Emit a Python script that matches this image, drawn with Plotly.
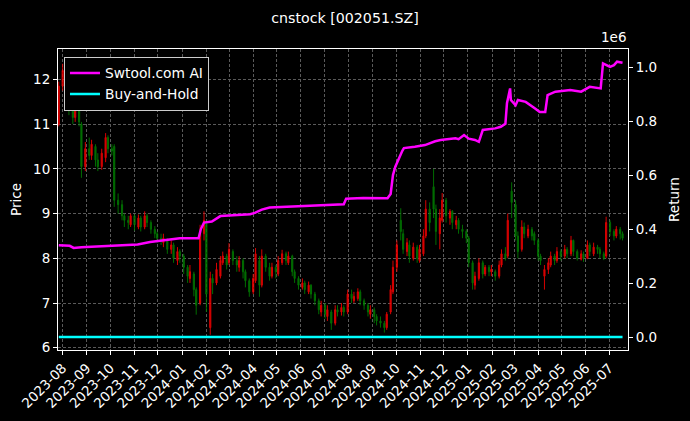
import pandas as pd
import plotly.graph_objects as go

# ---------------- data ----------------
open_ = [11.00, 11.85, 12.15, 11.75, 11.40, 11.15, 11.40, 11.00, 10.05, 10.45,
         10.30, 10.50, 10.20, 10.05, 10.25, 10.70, 10.45, 10.50, 9.30, 9.20,
         8.95, 8.85, 8.75, 8.95, 8.70, 8.90, 8.70, 8.95, 8.80, 8.65,
         8.55, 8.45, 8.35, 8.40, 8.20, 8.30, 7.95, 8.15, 8.05, 7.80,
         7.55, 7.65, 7.30, 7.00, 8.55, 8.80, 6.45, 7.55, 7.45, 7.60,
         7.90, 8.05, 7.90, 8.15, 7.95, 7.80, 7.95, 7.70, 7.50, 7.25,
         7.50, 7.95, 7.40, 8.05, 7.80, 7.60, 7.80, 7.65, 7.90, 8.10,
         7.90, 8.05, 7.70, 7.55, 7.35, 7.45, 7.25, 7.40, 7.20, 7.05,
         6.80, 6.95, 6.70, 6.80, 6.55, 6.85, 6.80, 6.90, 6.80, 7.20,
         7.05, 7.10, 7.25, 7.05, 6.95, 6.75, 6.85, 6.70, 6.60, 6.55,
         6.45, 6.80, 7.25, 7.80, 8.85, 8.55, 8.15, 8.30, 8.00, 8.25,
         7.95, 8.10, 8.50, 9.10, 9.60, 9.10, 8.55, 8.85, 9.30, 8.90,
         9.05, 8.75, 8.85, 8.65, 8.60, 8.45, 7.90, 7.40, 7.55, 7.90,
         7.65, 7.80, 7.70, 7.70, 7.60, 7.85, 8.10, 8.05, 9.50, 9.20,
         8.50, 8.20, 8.70, 8.50, 8.65, 8.55, 8.40, 8.05, 7.60, 7.75,
         7.85, 8.05, 7.95, 8.15, 8.05, 8.20, 8.10, 8.40, 8.15, 7.98,
         8.10, 8.00, 8.30, 8.10, 8.25, 8.20, 8.10, 8.05, 8.80, 8.60,
         8.50, 8.65, 8.55]
high = [11.95, 12.35, 12.25, 11.85, 11.55, 11.70, 11.50, 11.05, 10.60, 10.70,
        10.65, 10.55, 10.35, 10.45, 10.80, 10.75, 10.55, 10.55, 9.45, 9.30,
        9.00, 8.95, 9.00, 8.98, 8.98, 8.95, 9.05, 9.00, 8.85, 8.72,
        8.60, 8.55, 8.55, 8.45, 8.40, 8.35, 8.25, 8.20, 8.10, 7.85,
        7.85, 7.70, 7.35, 8.75, 9.05, 8.85, 7.70, 7.65, 7.90, 8.05,
        8.15, 8.10, 8.34, 8.20, 8.05, 8.05, 8.00, 7.75, 7.55, 7.65,
        8.23, 8.05, 8.20, 8.10, 7.90, 7.90, 7.85, 8.05, 8.19, 8.15,
        8.15, 8.08, 7.75, 7.60, 7.55, 7.50, 7.48, 7.42, 7.25, 7.10,
        7.05, 7.00, 6.95, 6.85, 6.95, 6.95, 7.00, 6.95, 7.30, 7.30,
        7.25, 7.33, 7.30, 7.10, 7.00, 6.95, 6.90, 6.75, 6.70, 6.60,
        6.80, 7.40, 7.95, 8.40, 9.12, 8.65, 8.45, 8.40, 8.35, 8.30,
        8.30, 8.65, 9.30, 9.25, 10.00, 9.20, 9.10, 9.46, 9.35, 9.10,
        9.08, 8.95, 8.90, 8.75, 8.65, 8.50, 7.95, 7.70, 8.00, 7.95,
        7.85, 7.85, 7.85, 7.75, 7.95, 8.20, 8.25, 9.00, 9.70, 9.30,
        8.60, 8.85, 8.80, 8.75, 8.70, 8.60, 8.45, 8.10, 7.85, 8.00,
        8.15, 8.10, 8.25, 8.20, 8.30, 8.25, 8.50, 8.42, 8.20, 8.18,
        8.15, 8.40, 8.35, 8.35, 8.30, 8.25, 8.15, 8.93, 8.85, 8.65,
        8.72, 8.70, 8.60]
low = [10.95, 11.75, 11.60, 11.20, 11.00, 11.05, 10.95, 9.80, 9.95, 10.20,
       10.20, 10.05, 9.95, 9.98, 10.15, 10.35, 10.30, 9.15, 9.00, 8.85,
       8.70, 8.65, 8.70, 8.62, 8.65, 8.60, 8.65, 8.70, 8.55, 8.45,
       8.35, 8.30, 8.25, 8.10, 8.10, 7.90, 7.85, 7.90, 7.65, 7.45,
       7.45, 7.15, 6.74, 6.95, 8.40, 6.80, 6.29, 7.20, 7.40, 7.55,
       7.85, 7.75, 7.85, 7.85, 7.70, 7.70, 7.55, 7.35, 7.14, 7.20,
       7.45, 7.14, 7.35, 7.70, 7.50, 7.55, 7.55, 7.60, 7.85, 7.85,
       7.85, 7.60, 7.45, 7.30, 7.30, 7.20, 7.20, 7.10, 6.95, 6.75,
       6.70, 6.65, 6.60, 6.40, 6.50, 6.70, 6.72, 6.70, 6.75, 7.00,
       7.00, 7.05, 6.95, 6.85, 6.70, 6.65, 6.55, 6.50, 6.45, 6.34,
       6.40, 6.75, 7.20, 7.70, 8.40, 8.10, 8.05, 7.90, 7.95, 7.90,
       7.90, 8.05, 8.45, 8.60, 8.90, 8.30, 8.20, 8.80, 8.80, 8.75,
       8.65, 8.65, 8.55, 8.45, 8.34, 7.80, 7.30, 7.30, 7.50, 7.55,
       7.60, 7.60, 7.60, 7.50, 7.55, 7.80, 7.95, 8.00, 8.90, 8.40,
       8.00, 8.15, 8.45, 8.45, 8.40, 8.30, 7.95, 7.85, 7.30, 7.65,
       7.80, 7.85, 7.90, 7.95, 8.00, 8.00, 8.05, 8.05, 7.95, 7.95,
       7.92, 7.98, 8.05, 8.05, 8.10, 8.00, 7.96, 8.00, 8.50, 8.40,
       8.45, 8.42, 8.40]
close = [11.85, 12.20, 11.80, 11.40, 11.15, 11.45, 11.05, 10.05, 10.45, 10.30,
         10.55, 10.20, 10.05, 10.35, 10.70, 10.45, 10.40, 9.30, 9.20, 8.95,
         8.85, 8.80, 8.95, 8.75, 8.90, 8.70, 8.95, 8.80, 8.65, 8.55,
         8.45, 8.40, 8.45, 8.20, 8.30, 8.00, 8.15, 8.05, 7.80, 7.60,
         7.70, 7.30, 6.95, 8.60, 8.85, 7.20, 7.55, 7.45, 7.75, 7.95,
         8.05, 7.85, 8.20, 7.95, 7.85, 7.95, 7.70, 7.50, 7.25, 7.55,
         8.10, 7.40, 8.05, 7.80, 7.60, 7.80, 7.70, 7.95, 8.10, 7.95,
         8.05, 7.70, 7.55, 7.40, 7.45, 7.30, 7.40, 7.20, 7.05, 6.85,
         6.95, 6.75, 6.85, 6.55, 6.85, 6.80, 6.90, 6.80, 7.20, 7.10,
         7.15, 7.25, 7.05, 6.95, 6.80, 6.85, 6.70, 6.60, 6.55, 6.45,
         6.75, 7.30, 7.80, 8.30, 8.60, 8.20, 8.35, 8.05, 8.25, 8.00,
         8.20, 8.50, 9.10, 8.80, 9.10, 8.60, 8.90, 9.30, 8.95, 9.05,
         8.80, 8.85, 8.65, 8.60, 8.45, 7.90, 7.45, 7.60, 7.90, 7.65,
         7.80, 7.70, 7.75, 7.60, 7.85, 8.10, 8.00, 8.85, 9.25, 8.50,
         8.15, 8.70, 8.55, 8.65, 8.50, 8.40, 8.05, 7.95, 7.75, 7.90,
         8.05, 7.95, 8.15, 8.05, 8.20, 8.10, 8.40, 8.15, 8.00, 8.10,
         8.00, 8.30, 8.15, 8.25, 8.20, 8.10, 8.00, 8.80, 8.60, 8.50,
         8.65, 8.55, 8.45]

ai_dates = ["2023-07-27", "2023-08-10", "2023-08-15", "2023-08-25", "2023-09-20",
            "2023-10-13", "2023-11-05", "2023-11-21", "2023-12-10", "2023-12-29",
            "2024-01-22", "2024-01-25", "2024-01-29", "2024-02-08", "2024-02-19",
            "2024-03-10", "2024-03-28", "2024-04-03", "2024-04-12", "2024-04-22",
            "2024-05-31", "2024-07-10", "2024-07-26", "2024-07-29", "2024-08-20",
            "2024-09-20", "2024-09-24", "2024-09-27", "2024-09-30", "2024-10-09",
            "2024-10-11", "2024-10-25", "2024-11-07", "2024-11-20", "2024-11-27",
            "2024-12-16", "2024-12-20", "2024-12-27", "2025-01-02", "2025-01-10",
            "2025-01-15", "2025-01-20", "2025-02-05", "2025-02-12", "2025-02-18",
            "2025-02-20", "2025-02-24", "2025-02-25", "2025-03-03", "2025-03-06",
            "2025-03-16", "2025-03-28", "2025-04-03", "2025-04-10", "2025-04-13",
            "2025-04-23", "2025-05-12", "2025-05-26", "2025-06-06", "2025-06-20",
            "2025-06-23", "2025-07-02", "2025-07-07", "2025-07-11", "2025-07-18"]
ai_values = [340000, 338000, 330000, 333000, 336000,
             340000, 343000, 352000, 360000, 366000,
             366000, 400000, 424000, 428000, 448000,
             452000, 455000, 460000, 472000, 480000,
             486000, 490000, 492000, 512000, 515000,
             514000, 530000, 600000, 631000, 690000,
             700000, 705000, 711000, 725000, 730000,
             736000, 733000, 748000, 735000, 730000,
             723000, 767000, 773000, 779000, 790000,
             866000, 921000, 878000, 859000, 878000,
             871000, 847000, 834000, 834000, 896000,
             909000, 915000, 909000, 927000, 921000,
             1014000, 1001000, 1007000, 1020000, 1016000]

month_ticks = pd.date_range("2023-08-01", "2025-07-01", freq="MS")
right_tick_vals = [0, 200000, 400000, 600000, 800000, 1000000]
right_tick_text = ["0.0", "0.2", "0.4", "0.6", "0.8", "1.0"]

# ---------------- build ----------------
dates = pd.bdate_range("2023-07-27", "2025-07-18")[::3][:len(close)]
bh_values = [c / close[0] - 1 for c in close]

FONT = "DejaVu Sans"
FS = 13.5
fig = go.Figure()
fig.add_trace(go.Candlestick(
    x=dates, open=open_, high=high, low=low, close=close,
    increasing=dict(line=dict(color="#ff0000", width=1), fillcolor="#ff0000"),
    decreasing=dict(line=dict(color="#008000", width=1), fillcolor="#008000"),
    showlegend=False, yaxis="y", opacity=0.85,
))
fig.add_trace(go.Scatter(
    x=pd.to_datetime(ai_dates), y=ai_values, mode="lines", name="Swtool.com AI",
    line=dict(color="#ff00ff", width=2.5), yaxis="y2",
))
fig.add_trace(go.Scatter(
    x=dates, y=bh_values, mode="lines", name="Buy-and-Hold",
    line=dict(color="#00ffff", width=2.5), yaxis="y2",
))

GRID = dict(showgrid=True, gridcolor="#5a5a5a", gridwidth=0.5, griddash="3px,2px")
fig.update_layout(
    width=690, height=421,
    paper_bgcolor="black", plot_bgcolor="black",
    margin=dict(l=58, r=62, t=49, b=71, autoexpand=False),
    font=dict(family=FONT, color="white", size=FS),
    title=dict(text="cnstock [002051.SZ]", x=0.5, xref="container", xanchor="center",
               y=1 - 18 / 421, yref="container", yanchor="middle",
               font=dict(size=14.2, color="white", family=FONT)),
    xaxis=dict(
        type="date", range=["2023-07-26", "2025-07-25"], automargin=False,
        tickvals=month_ticks, tickformat="%Y-%m", tickangle=-45,
        ticks="outside", ticklen=4, tickcolor="white",
        showline=True, linecolor="white", linewidth=1, mirror=True,
        rangeslider=dict(visible=False), zeroline=False,
        tickfont=dict(size=FS), **GRID,
    ),
    yaxis=dict(
        range=[5.95, 12.68], tickvals=[6, 7, 8, 9, 10, 11, 12], automargin=False,
        ticks="outside", ticklen=4, tickcolor="white",
        showline=True, linecolor="white", linewidth=1,
        zeroline=False,
        title=dict(text="Price", font=dict(size=FS), standoff=8),
        tickfont=dict(size=FS), **GRID,
    ),
    yaxis2=dict(
        overlaying="y", side="right", anchor="x", automargin=False,
        range=[-48000, 1067000],
        tickvals=right_tick_vals, ticktext=right_tick_text,
        ticks="outside", ticklen=4, tickcolor="white",
        showline=True, linecolor="white", linewidth=1,
        showgrid=False, zeroline=False,
        title=dict(text="Return", font=dict(size=FS), standoff=13),
        tickfont=dict(size=FS),
    ),
    legend=dict(
        x=0.0105, y=0.975, xanchor="left", yanchor="top",
        bgcolor="black", bordercolor="#cccccc", borderwidth=1,
        font=dict(size=13.8, color="white"),
        itemwidth=30, tracegroupgap=0,
    ),
    annotations=[dict(text="1e6", x=1.0, xref="paper", xanchor="right",
                      y=1.0, yref="paper", yanchor="bottom", yshift=2,
                      showarrow=False, font=dict(size=FS, color="white"))],
)

fig.write_html("out.html", config={"displayModeBar": False},
               post_script="document.body.style.margin='0px';")
